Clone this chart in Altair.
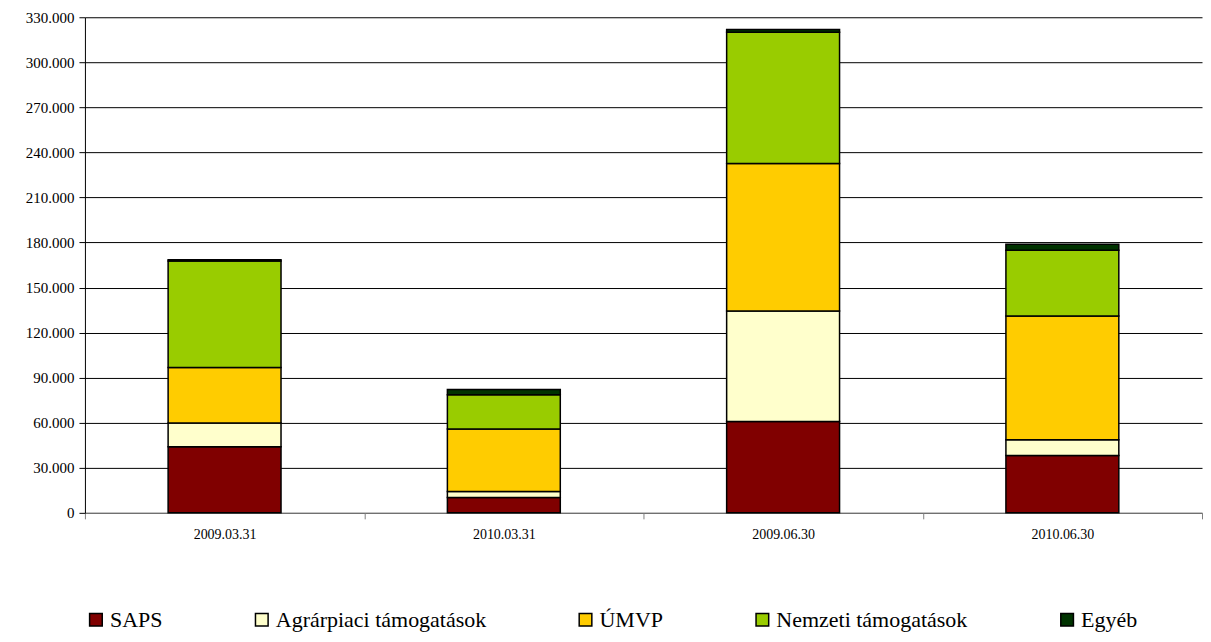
import altair as alt
import pandas as pd

categories = ["2009.03.31", "2010.03.31", "2009.06.30", "2010.06.30"]
series = ["SAPS", "Agrárpiaci támogatások", "ÚMVP", "Nemzeti támogatások", "Egyéb"]
colors = ["#800000", "#FFFFCC", "#FFCC00", "#99CC00", "#003300"]

saps = [44000, 10200, 60900, 38200]
agrar = [15800, 4000, 73500, 10500]
umvp = [37000, 41700, 98300, 82400]
nemzeti = [70900, 22700, 87300, 43800]
egyeb = [800, 3500, 1800, 4000]

values = [saps, agrar, umvp, nemzeti, egyeb]
rows = []
for si, (name, vals) in enumerate(zip(series, values)):
    for c, v in zip(categories, vals):
        rows.append({"Dátum": c, "Sorozat": name, "Érték": v, "ord": si})
df = pd.DataFrame(rows)

FONT = "'Liberation Serif', serif"

chart = alt.Chart(df).mark_bar(size=113, stroke="black", strokeWidth=1.5).encode(
    x=alt.X("Dátum:N", sort=categories, title=None,
            scale=alt.Scale(paddingInner=0, paddingOuter=0),
            axis=alt.Axis(labelAngle=0, tickBand="extent", labelFontSize=14,
                          labelFont=FONT, labelColor="black", domainColor="#808080",
                          tickColor="#808080", tickSize=6, labelPadding=9, grid=False)),
    y=alt.Y("Érték:Q", stack="zero", title=None,
            scale=alt.Scale(domain=[0, 330000], nice=False),
            axis=alt.Axis(values=list(range(0, 330001, 30000)),
                          labelExpr="replace(format(datum.value, ','), ',', '.')",
                          labelFontSize=15, labelFont=FONT, labelColor="black",
                          domainColor="black", tickColor="black", tickSize=6,
                          gridColor="black", gridWidth=1, labelPadding=5)),
    color=alt.Color("Sorozat:N", sort=series,
                    scale=alt.Scale(domain=series, range=colors),
                    legend=alt.Legend(title=None, orient="bottom", direction="horizontal",
                                      columns=5, symbolType="square", symbolSize=160,
                                      symbolStrokeColor="black", symbolStrokeWidth=1.5,
                                      labelFontSize=22, labelFont=FONT, labelColor="black",
                                      labelLimit=400, columnPadding=88, offset=67,
                                      labelOffset=3)),
    order=alt.Order("ord:Q", sort="ascending"),
).properties(
    width=1118, height=496,
    padding={"left": 17, "top": 2, "right": 0, "bottom": 5},
).configure(font=FONT).configure_view(stroke=None)

chart.save("out.html", embed_options={"renderer": "svg", "actions": False})
